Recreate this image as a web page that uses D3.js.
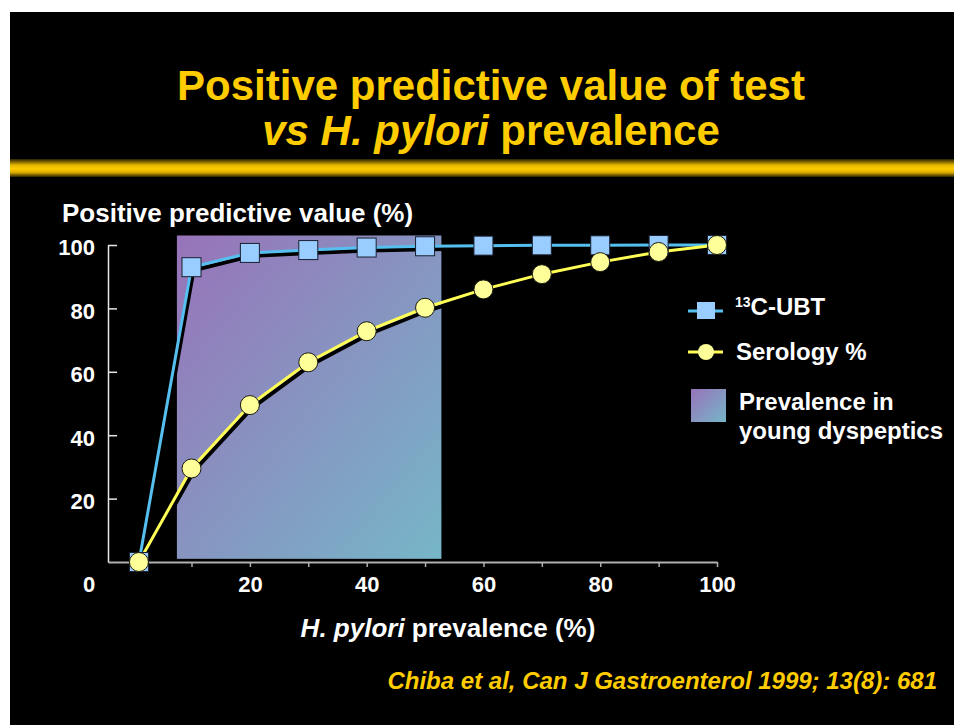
<!DOCTYPE html>
<html>
<head>
<meta charset="utf-8">
<script src="https://cdn.jsdelivr.net/npm/d3@7"></script>
<style>
  html, body { margin: 0; padding: 0; background: #fff; }
  svg { display: block; font-family: "Liberation Sans", Arial, sans-serif; font-weight: bold; }
</style>
</head>
<body>
<div id="chart"></div>
<script>
// prevalence (%) at each point
let prevalence = [1, 10, 20, 30, 40, 50, 60, 70, 80, 90, 100];
// positive predictive value (%)
let ubt = [0, 93, 97.5, 98.4, 99.2, 99.6, 99.8, 99.9, 99.9, 100, 100];
let serology = [0, 29.5, 49.5, 63, 72.8, 80.2, 86, 90.8, 94.6, 97.8, 100];
let xTicks = [10, 20, 30, 40, 50, 60, 70, 80, 90, 100];
let yTicks = [20, 40, 60, 80, 100];
// shaded band: prevalence in young dyspeptics
let band = [7.5, 52.8];
let bandPpv = [1, 103];

let width = 954, height = 725;

let svg = d3.select("#chart").append("svg")
  .attr("width", width)
  .attr("height", height);

let defs = svg.append("defs");

let gold = defs.append("linearGradient")
  .attr("id", "gold").attr("x1", 0).attr("y1", 0).attr("x2", 0).attr("y2", 1);
gold.append("stop").attr("offset", "0%").attr("stop-color", "#2a2200");
gold.append("stop").attr("offset", "35%").attr("stop-color", "#e8b800");
gold.append("stop").attr("offset", "55%").attr("stop-color", "#ffcc00");
gold.append("stop").attr("offset", "75%").attr("stop-color", "#d9aa00");
gold.append("stop").attr("offset", "100%").attr("stop-color", "#2a2200");

let shade = defs.append("linearGradient")
  .attr("id", "shade").attr("x1", 0).attr("y1", 0).attr("x2", 1).attr("y2", 1);
shade.append("stop").attr("offset", "0%").attr("stop-color", "#9873b9");
shade.append("stop").attr("offset", "100%").attr("stop-color", "#76b6c8");

// slide background
svg.append("rect").attr("x", 10).attr("y", 12)
  .attr("width", width - 10).attr("height", height - 12).attr("fill", "#000");

svg.append("rect").attr("x", 10).attr("y", 159)
  .attr("width", width - 10).attr("height", 18).attr("fill", "url(#gold)");

let title = svg.append("text")
  .attr("text-anchor", "middle")
  .attr("fill", "#ffcc00")
  .attr("font-size", 42);
title.append("tspan").attr("x", 491).attr("y", 100).text("Positive predictive value of test");
let t2 = title.append("tspan").attr("x", 491).attr("y", 145);
t2.append("tspan").attr("font-style", "italic").text("vs H. pylori");
t2.append("tspan").text(" prevalence");

let x = d3.scaleLinear().domain([-4.3, 100]).range([108, 717]);
let y = d3.scaleLinear().domain([0, 100]).range([562, 245]);

// band
svg.append("rect")
  .attr("x", x(band[0]))
  .attr("y", y(bandPpv[1]))
  .attr("width", x(band[1]) - x(band[0]))
  .attr("height", y(bandPpv[0]) - y(bandPpv[1]))
  .attr("fill", "url(#shade)");

// axes
let xAxis = svg.append("g")
  .attr("transform", `translate(0,${y(0)})`)
  .call(d3.axisBottom(x).tickValues(xTicks).tickSize(5).tickSizeOuter(0)
    .tickFormat(d => d % 20 === 0 ? d : ""));
xAxis.select(".domain").attr("stroke", "#b0b0b0").attr("stroke-width", 2);
xAxis.selectAll(".tick line").attr("stroke", "#b0b0b0").attr("stroke-width", 1.5);
xAxis.selectAll(".tick text").attr("fill", "#fff").attr("font-size", 22).attr("dy", null).attr("y", 30);
xAxis.append("text").attr("x", 89).attr("y", 30)
  .attr("text-anchor", "middle").attr("fill", "#fff").attr("font-size", 22).text("0");

let yAxis = svg.append("g")
  .attr("transform", `translate(${x.range()[0]},0)`)
  .call(d3.axisRight(y).tickValues(yTicks).tickSize(9).tickSizeOuter(0));
yAxis.select(".domain").attr("stroke", "#e8e8e8").attr("stroke-width", 1.5);
yAxis.selectAll(".tick line").attr("stroke", "#e8e8e8").attr("stroke-width", 1.5);
yAxis.selectAll(".tick text").attr("fill", "#fff").attr("font-size", 22)
  .attr("x", -13).attr("text-anchor", "end").attr("dy", "0.45em");
yAxis.attr("font-family", null).attr("font-size", null);
xAxis.attr("font-family", null).attr("font-size", null);

svg.append("text").attr("x", 62).attr("y", 222)
  .attr("fill", "#fff").attr("font-size", 26)
  .text("Positive predictive value (%)");

let xt = svg.append("text").attr("x", 448).attr("y", 637)
  .attr("text-anchor", "middle").attr("fill", "#fff").attr("font-size", 26);
xt.append("tspan").attr("font-style", "italic").text("H. pylori");
xt.append("tspan").text(" prevalence (%)");

// lines
let line = vals => d3.line()
  .x((d, i) => x(prevalence[i]))
  .y(d => y(d))(vals);

[ubt, serology].forEach(vals => {
  svg.append("path").attr("d", line(vals))
    .attr("transform", "translate(2,3)")
    .attr("fill", "none").attr("stroke", "#000").attr("stroke-width", 4);
});
svg.append("path").attr("d", line(ubt))
  .attr("fill", "none").attr("stroke", "#55c0f0").attr("stroke-width", 3);
svg.append("path").attr("d", line(serology))
  .attr("fill", "none").attr("stroke", "#ffff55").attr("stroke-width", 3);

svg.append("g").selectAll("rect")
  .data(ubt)
  .join("rect")
  .attr("x", (d, i) => x(prevalence[i]) - 9.5)
  .attr("y", d => y(d) - 9.5)
  .attr("width", 19).attr("height", 19)
  .attr("fill", "#99ccff").attr("stroke", "#1a2030").attr("stroke-width", 1);

svg.append("g").selectAll("circle")
  .data(serology)
  .join("circle")
  .attr("cx", (d, i) => x(prevalence[i]))
  .attr("cy", d => y(d))
  .attr("r", 9.5)
  .attr("fill", "#ffff99").attr("stroke", "#1a1a10").attr("stroke-width", 1);

// legend
let lg = svg.append("g");
lg.append("line").attr("x1", 688).attr("x2", 723).attr("y1", 311).attr("y2", 311)
  .attr("stroke", "#55c0f0").attr("stroke-width", 3);
lg.append("rect").attr("x", 697).attr("y", 302).attr("width", 18).attr("height", 17)
  .attr("fill", "#99ccff");
lg.append("line").attr("x1", 688).attr("x2", 723).attr("y1", 352).attr("y2", 352)
  .attr("stroke", "#ffff55").attr("stroke-width", 3);
lg.append("circle").attr("cx", 706).attr("cy", 352).attr("r", 8).attr("fill", "#ffff99");
lg.append("rect").attr("x", 691).attr("y", 389).attr("width", 35).attr("height", 33)
  .attr("fill", "url(#shade)");

let l1 = lg.append("text").attr("x", 735).attr("y", 315).attr("fill", "#fff").attr("font-size", 24);
l1.append("tspan").attr("font-size", 14).attr("dy", -8).text("13");
l1.append("tspan").attr("dy", 8).text("C-UBT");
lg.append("text").attr("x", 736).attr("y", 360).attr("fill", "#fff").attr("font-size", 24)
  .text("Serology %");
let l3 = lg.append("text").attr("fill", "#fff").attr("font-size", 24);
l3.append("tspan").attr("x", 739).attr("y", 410).text("Prevalence in");
l3.append("tspan").attr("x", 739).attr("y", 439).text("young dyspeptics");

svg.append("text").attr("x", 937).attr("y", 689).attr("text-anchor", "end")
  .attr("fill", "#ffcc00").attr("font-style", "italic").attr("font-size", 24)
  .text("Chiba et al, Can J Gastroenterol 1999; 13(8): 681");
</script>
</body>
</html>
